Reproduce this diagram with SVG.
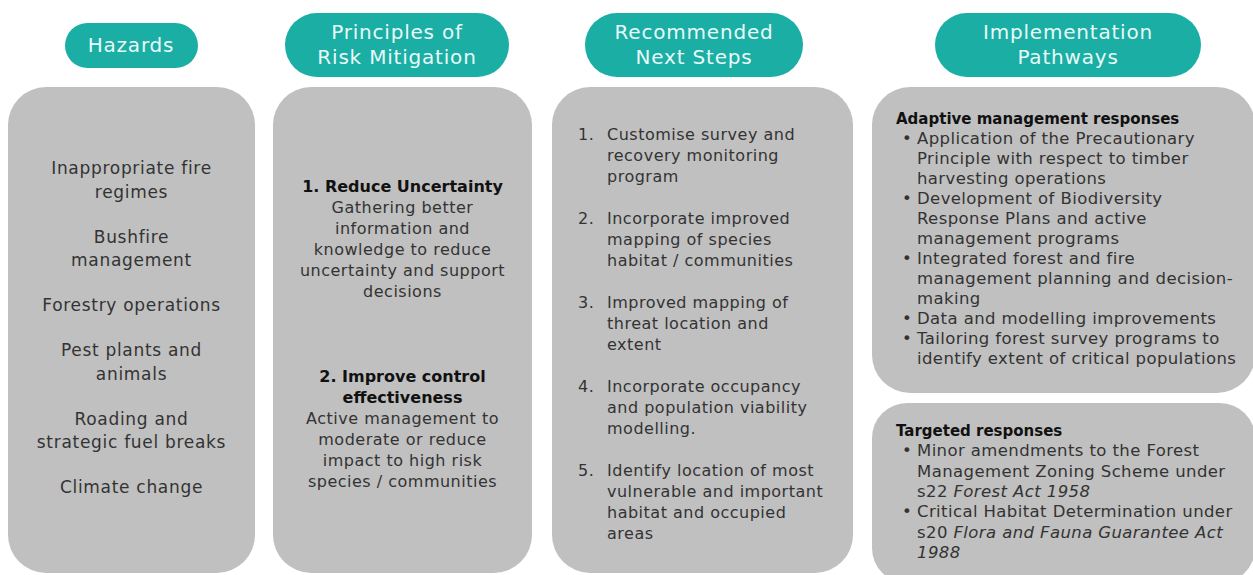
<svg xmlns="http://www.w3.org/2000/svg" width="1253" height="575" viewBox="0 0 1253 575">
<style>
.pill{fill:#1aaea4}
.pt{font-family:"DejaVu Sans",sans-serif;font-size:20px;letter-spacing:0.8px;fill:#e8faf8;text-anchor:middle}
.box{fill:#c0c0c0}
.t1{font-family:"DejaVu Sans",sans-serif;font-size:17px;letter-spacing:0.7px;fill:#333;text-anchor:middle}
.t2{font-family:"DejaVu Sans",sans-serif;font-size:16px;letter-spacing:0.5px;fill:#333;text-anchor:middle}
.b2{font-family:"DejaVu Sans",sans-serif;font-size:16px;font-weight:bold;fill:#111;text-anchor:middle}
.t3{font-family:"DejaVu Sans",sans-serif;font-size:16px;letter-spacing:0.5px;fill:#333}
.h4{font-family:"DejaVu Sans",sans-serif;font-size:15px;font-weight:bold;fill:#111}
.t4{font-family:"DejaVu Sans",sans-serif;font-size:16.5px;letter-spacing:0.4px;fill:#333}
.i{font-style:italic}
</style>
<rect width="1253" height="575" fill="#fff"/>

<g id="hdr-hazards">
<rect class="pill" x="65" y="23" width="133" height="45" rx="22.5"/>
<text class="pt" x="131" y="52">Hazards</text>
</g>
<g id="hdr-principles">
<rect class="pill" x="285" y="13" width="224" height="64" rx="32"/>
<text class="pt" x="397" y="39">Principles of</text>
<text class="pt" x="397" y="64">Risk Mitigation</text>
</g>
<g id="hdr-next">
<rect class="pill" x="585" y="13" width="218" height="64" rx="32"/>
<text class="pt" x="694" y="39">Recommended</text>
<text class="pt" x="694" y="64">Next Steps</text>
</g>
<g id="hdr-impl">
<rect class="pill" x="935" y="13" width="266" height="64" rx="32"/>
<text class="pt" x="1068" y="39">Implementation</text>
<text class="pt" x="1068" y="64">Pathways</text>
</g>

<g id="box-hazards">
<rect class="box" x="8" y="87" width="247" height="486" rx="38"/>
<text class="t1" x="131.5" y="174">Inappropriate fire</text>
<text class="t1" x="131.5" y="197.5">regimes</text>
<text class="t1" x="131.5" y="242.5">Bushfire</text>
<text class="t1" x="131.5" y="266">management</text>
<text class="t1" x="131.5" y="311">Forestry operations</text>
<text class="t1" x="131.5" y="356">Pest plants and</text>
<text class="t1" x="131.5" y="379.5">animals</text>
<text class="t1" x="131.5" y="424.5">Roading and</text>
<text class="t1" x="131.5" y="448">strategic fuel breaks</text>
<text class="t1" x="131.5" y="493">Climate change</text>
</g>

<g id="box-principles">
<rect class="box" x="273" y="87" width="259" height="486" rx="38"/>
<text class="b2" x="402.5" y="192">1. Reduce Uncertainty</text>
<text class="t2" x="402.5" y="213">Gathering better</text>
<text class="t2" x="402.5" y="234">information and</text>
<text class="t2" x="402.5" y="255">knowledge to reduce</text>
<text class="t2" x="402.5" y="276">uncertainty and support</text>
<text class="t2" x="402.5" y="297">decisions</text>
<text class="b2" x="402.5" y="382">2. Improve control</text>
<text class="b2" x="402.5" y="403">effectiveness</text>
<text class="t2" x="402.5" y="424">Active management to</text>
<text class="t2" x="402.5" y="445">moderate or reduce</text>
<text class="t2" x="402.5" y="466">impact to high risk</text>
<text class="t2" x="402.5" y="487">species / communities</text>
</g>

<g id="box-next">
<rect class="box" x="552" y="87" width="301" height="486" rx="38"/>
<text class="t3" x="578" y="140">1.</text>
<text class="t3" x="607" y="140">Customise survey and</text>
<text class="t3" x="607" y="161">recovery monitoring</text>
<text class="t3" x="607" y="182">program</text>
<text class="t3" x="578" y="224">2.</text>
<text class="t3" x="607" y="224">Incorporate improved</text>
<text class="t3" x="607" y="245">mapping of species</text>
<text class="t3" x="607" y="266">habitat / communities</text>
<text class="t3" x="578" y="308">3.</text>
<text class="t3" x="607" y="308">Improved mapping of</text>
<text class="t3" x="607" y="329">threat location and</text>
<text class="t3" x="607" y="350">extent</text>
<text class="t3" x="578" y="392">4.</text>
<text class="t3" x="607" y="392">Incorporate occupancy</text>
<text class="t3" x="607" y="413">and population viability</text>
<text class="t3" x="607" y="434">modelling.</text>
<text class="t3" x="578" y="476">5.</text>
<text class="t3" x="607" y="476">Identify location of most</text>
<text class="t3" x="607" y="497">vulnerable and important</text>
<text class="t3" x="607" y="518">habitat and occupied</text>
<text class="t3" x="607" y="539">areas</text>
</g>

<g id="box-adaptive">
<rect class="box" x="872" y="87" width="383" height="306" rx="38"/>
<text class="h4" x="896" y="124">Adaptive management responses</text>
<text class="t4" x="902" y="144">•</text>
<text class="t4" x="917" y="144">Application of the Precautionary</text>
<text class="t4" x="917" y="164">Principle with respect to timber</text>
<text class="t4" x="917" y="184">harvesting operations</text>
<text class="t4" x="902" y="204">•</text>
<text class="t4" x="917" y="204">Development of Biodiversity</text>
<text class="t4" x="917" y="224">Response Plans and active</text>
<text class="t4" x="917" y="244">management programs</text>
<text class="t4" x="902" y="264">•</text>
<text class="t4" x="917" y="264">Integrated forest and fire</text>
<text class="t4" x="917" y="284">management planning and decision-</text>
<text class="t4" x="917" y="304">making</text>
<text class="t4" x="902" y="324">•</text>
<text class="t4" x="917" y="324">Data and modelling improvements</text>
<text class="t4" x="902" y="344">•</text>
<text class="t4" x="917" y="344">Tailoring forest survey programs to</text>
<text class="t4" x="917" y="364">identify extent of critical populations</text>
</g>

<g id="box-targeted">
<rect class="box" x="872" y="403" width="383" height="180" rx="35"/>
<text class="h4" x="896" y="436">Targeted responses</text>
<text class="t4" x="902" y="456">•</text>
<text class="t4" x="917" y="456">Minor amendments to the Forest</text>
<text class="t4" x="917" y="476.5">Management Zoning Scheme under</text>
<text class="t4" x="917" y="497">s22 <tspan class="i">Forest Act 1958</tspan></text>
<text class="t4" x="902" y="517">•</text>
<text class="t4" x="917" y="517">Critical Habitat Determination under</text>
<text class="t4" x="917" y="537.5">s20 <tspan class="i">Flora and Fauna Guarantee Act</tspan></text>
<text class="t4 i" x="917" y="558">1988</text>
</g>

<g id="connectors"/>
</svg>
